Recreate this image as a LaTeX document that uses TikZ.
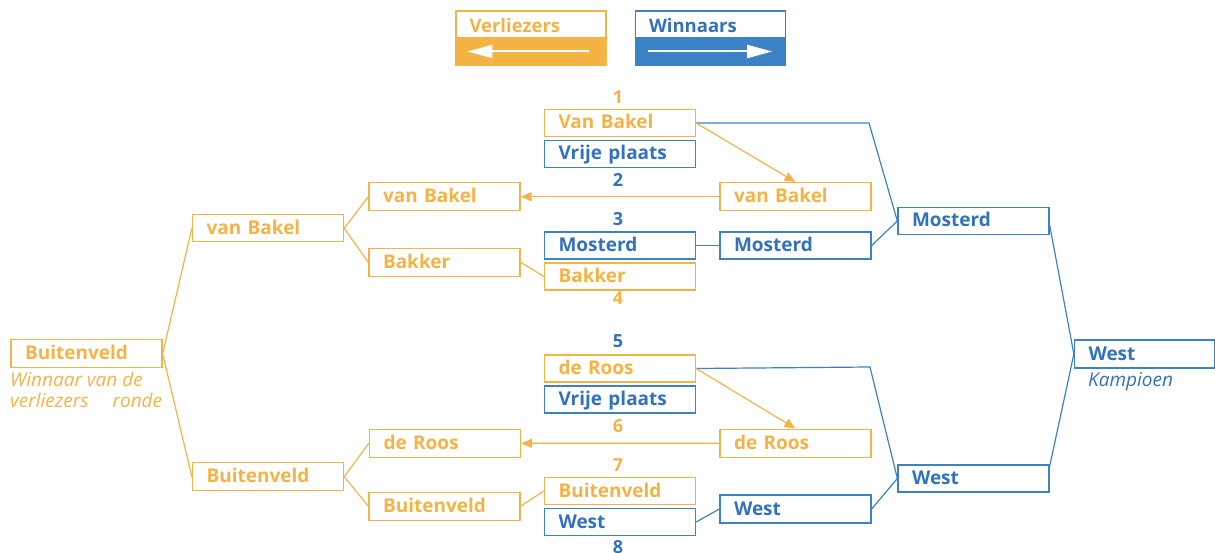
\documentclass[tikz,border=0pt]{standalone}
\usepackage{fontspec}
\setmainfont{Open Sans}
\usetikzlibrary{arrows.meta}
\definecolor{org}{RGB}{245,179,70}
\definecolor{blu}{RGB}{60,130,198}
\definecolor{blutxt}{RGB}{50,114,187}
\begin{document}
\begin{tikzpicture}[x=1pt,y=-1pt,
  every node/.style={inner sep=0pt},
  team/.style={draw, line width=1.3pt, minimum width=151pt, minimum height=27pt,
    text width=123pt, align=left, text height=15pt, text depth=3pt,
    font=\fontsize{19}{22}\selectfont\bfseries},
  obox/.style={team, draw=org, text=org},
  bbox/.style={team, draw=blu, text=blutxt},
  num/.style={font=\fontsize{18}{20}\selectfont\bfseries},
  oline/.style={draw=org, line width=1.2pt},
  bline/.style={draw=blu, line width=1.2pt},
  oarrow/.style={oline, -{Triangle[length=11pt,width=9pt]}},
  legtop/.style={draw=#1, fill=white, line width=1.3pt, minimum width=150pt,
    minimum height=27pt, text width=123pt, align=left, text height=13pt,
    text depth=0pt, text=#1, font=\fontsize{18.5}{20}\selectfont\bfseries},
  legbar/.style={draw=#1, fill=#1, line width=1.3pt, minimum width=150pt,
    minimum height=27pt},
  legarrow/.style={draw=white, line width=2pt, -{Triangle[length=25pt,width=13pt]}},
  note/.style={font=\fontsize{19}{21}\selectfont\itshape}
]
\useasboundingbox (0,0) rectangle (1215,553);

% legend
\node[legtop=org] (vtop) at (531,24.5) {\raisebox{-2pt}{Verliezers}};
\node[legbar=org] (vbar) at (531,51.5) {};
\node[legtop=blu] (wtop) at (710.5,24.5) {\raisebox{-2pt}{\textcolor{blutxt}{Winnaars}}};
\node[legbar=blu] (wbar) at (710.5,51.5) {};
\draw[legarrow] ([xshift=-18pt]vbar.east) -- ([xshift=12pt]vbar.west);
\draw[legarrow] ([xshift=13pt]wbar.west) -- ([xshift=-14pt]wbar.east);

% first round
\node[obox] (c1) at (620,123) {Van Bakel};
\node[bbox] (c2) at (620,154) {Vrije plaats};
\node[bbox] (c3) at (620,245.5) {Mosterd};
\node[obox] (c4) at (620,276.5) {Bakker};
\node[obox] (c5) at (620,368.5) {de Roos};
\node[bbox] (c6) at (620,399.5) {Vrije plaats};
\node[obox] (c7) at (620,491) {Buitenveld};
\node[bbox] (c8) at (620,522) {West};

% match numbers
\node[num, text=org] (n1) at (618,97) {1};
\node[num, text=blutxt] (n2) at (618,180) {2};
\node[num, text=blutxt] (n3) at (618,219) {3};
\node[num, text=org] (n4) at (618,298) {4};
\node[num, text=blutxt] (n5) at (618,341) {5};
\node[num, text=org] (n6) at (618,426) {6};
\node[num, text=org] (n7) at (618,465) {7};
\node[num, text=blutxt] (n8) at (618,547) {8};

% second column
\node[obox, minimum height=28pt] (m1) at (795.5,196.7) {van Bakel};
\node[bbox] (m2) at (795.5,245.5) {Mosterd};
\node[obox, minimum height=28pt] (m3) at (795.5,443.2) {de Roos};
\node[bbox, minimum height=28pt] (m4) at (795.5,509) {West};

% winners bracket
\node[bbox] (r1) at (973.5,221) {Mosterd};
\node[bbox] (r2) at (973.5,478.5) {West};
\node[bbox, minimum width=140pt, text width=112pt, minimum height=28pt] (r0) at (1144.5,354) {West};
\node[note, text=blutxt, anchor=base west] (kamp) at (1088,386.7) {Kampioen};

% losers bracket
\node[obox, minimum height=28pt] (l2a) at (444.5,196.7) {van Bakel};
\node[obox, minimum height=28pt] (l2b) at (444.5,262.3) {Bakker};
\node[obox, minimum height=28pt] (l2c) at (445,443.3) {de Roos};
\node[obox, minimum height=28pt] (l2d) at (444.5,506.2) {Buitenveld};
\node[obox, minimum height=27pt] (l1a) at (268,228.3) {van Bakel};
\node[obox, minimum height=28pt] (l1b) at (268,476.7) {Buitenveld};
\node[obox, minimum height=28pt] (l0) at (86.5,353.8) {Buitenveld};
\node[note, text=org, anchor=north west, align=left] (wvr) at (10,372)
  {Winnaar van de\\\makebox[152pt][s]{verliezers ronde}};

% winners connectors
\coordinate (k1) at (869,123);
\coordinate (k2) at (870,367);
\draw[bline] (c1.east) -- (k1) -- (r1.west);
\draw[bline] (c3.east) -- (m2.west);
\draw[bline] (m2.east) -- (r1.west);
\draw[bline] (c5.east) -- (k2) -- (r2.west);
\draw[bline] (c8.east) -- (m4.west);
\draw[bline] (m4.east) -- (r2.west);
\draw[bline] ([yshift=-4pt]r1.east) -- (r0.west);
\draw[bline] ([yshift=-2pt]r2.north east) -- (r0.west);

% losers connectors
\draw[oarrow] (c1.east) -- (m1.north);
\draw[oarrow] (c5.east) -- (m3.north);
\draw[oarrow] (m1.west) -- (l2a.east);
\draw[oarrow] (m3.west) -- (l2c.east);
\draw[oline] (l2b.east) -- (c4.west);
\draw[oline] (l2d.east) -- (c7.west);
\draw[oline] (l1a.east) -- (l2a.west);
\draw[oline] (l1a.east) -- (l2b.west);
\draw[oline] (l1b.east) -- (l2c.west);
\draw[oline] (l1b.east) -- (l2d.west);
\draw[oline] (l0.east) -- (l1a.west);
\draw[oline] (l0.east) -- (l1b.west);
\end{tikzpicture}
\end{document}
